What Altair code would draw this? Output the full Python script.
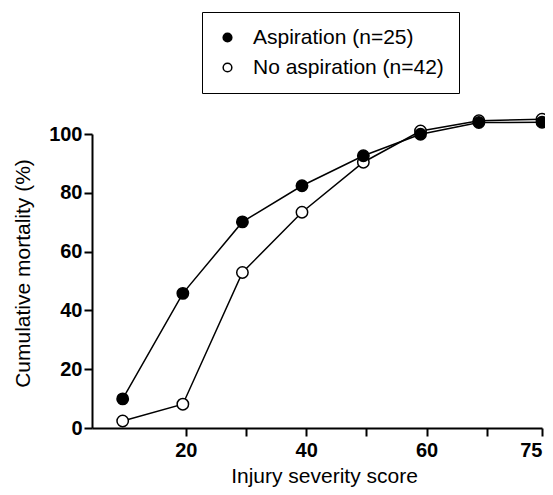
import altair as alt
import pandas as pd

# ---- data ----
groups = ["Aspiration (n=25)", "No aspiration (n=42)"]
iss = [9.5, 19.5, 29.4, 39.3, 49.5, 59, 68.7, 75]
aspiration = [9.9, 45.8, 70.1, 82.4, 92.6, 99.9, 103.9, 104.0]
no_aspiration = [2.4, 8.1, 52.9, 73.4, 90.4, 101.0, 104.5, 105.0]
x_ticks = [20, 30, 40, 50, 60, 70, 75]
x_labels = ["20", "", "40", "", "60", "", "75"]
y_ticks = [0, 20, 40, 60, 80, 100]

rows = []
for x, y in zip(iss, no_aspiration):
    rows.append({"iss": x, "mortality": y, "group": groups[1]})
for x, y in zip(iss, aspiration):
    rows.append({"iss": x, "mortality": y, "group": groups[0]})
df = pd.DataFrame(rows)

label_map = ", ".join(f"'{v}': '{l}'" for v, l in zip(x_ticks, x_labels))
label_expr = "{" + label_map + "}[datum.value]"

FONT = "Liberation Sans"

x_enc = alt.X(
    "iss:Q",
    scale=alt.Scale(domain=[4.4, 70, 75], range=[0, 394.7, 450], nice=False, zero=False),
    axis=alt.Axis(
        values=x_ticks,
        labelExpr=label_expr,
        title="Injury severity score",
        titleX=232,
        titleY=48,
        titleAlign="center",
        titleBaseline="middle",
        tickSize=8,
        labelPadding=4,
        grid=False,
    ),
)
y_enc = alt.Y(
    "mortality:Q",
    scale=alt.Scale(domain=[0, 100], nice=False, zero=False),
    axis=alt.Axis(
        values=y_ticks,
        title="Cumulative mortality (%)",
        titleX=-69,
        titleY=139,
        titleAngle=-90,
        titleAlign="center",
        titleBaseline="middle",
        tickSize=8,
        labelPadding=2,
        grid=False,
    ),
)

base = alt.Chart(df)

lines = base.mark_line(color="black", strokeWidth=1.5).encode(
    x=x_enc, y=y_enc, detail="group:N"
)

points = base.mark_point(
    filled=True, size=130, stroke="black", strokeWidth=1.5, opacity=1
).encode(
    x=x_enc,
    y=y_enc,
    fill=alt.Fill(
        "group:N",
        scale=alt.Scale(domain=groups, range=["black", "white"]),
        legend=alt.Legend(
            title=None,
            orient="none",
            legendX=110,
            legendY=-122,
            strokeColor="black",
            padding=15,
            rowPadding=8,
            labelFontSize=21,
            labelFont=FONT,
            labelColor="black",
            labelOffset=15,
            symbolType="circle",
            symbolSize=75,
            symbolStrokeColor="black",
            symbolStrokeWidth=1.5,
            labelLimit=400,
        ),
    ),
    order=alt.Order("group:N", sort="descending"),
)

chart = (
    alt.layer(lines, points)
    .properties(
        width=450,
        height=294,
        autosize=alt.AutoSizeParams(type="none"),
        padding={"left": 84, "top": 126, "right": 3, "bottom": 59},
        background="white",
    )
    .configure_view(stroke=None)
    .configure_axis(
        domainColor="black",
        domainWidth=2,
        tickColor="black",
        tickWidth=2,
        labelFont=FONT,
        labelFontSize=20,
        labelFontWeight="bold",
        labelColor="black",
        titleFont=FONT,
        titleFontSize=21,
        titleFontWeight="normal",
        titleColor="black",
    )
)

chart.save("out.html", embed_options={"renderer": "svg", "actions": False})
